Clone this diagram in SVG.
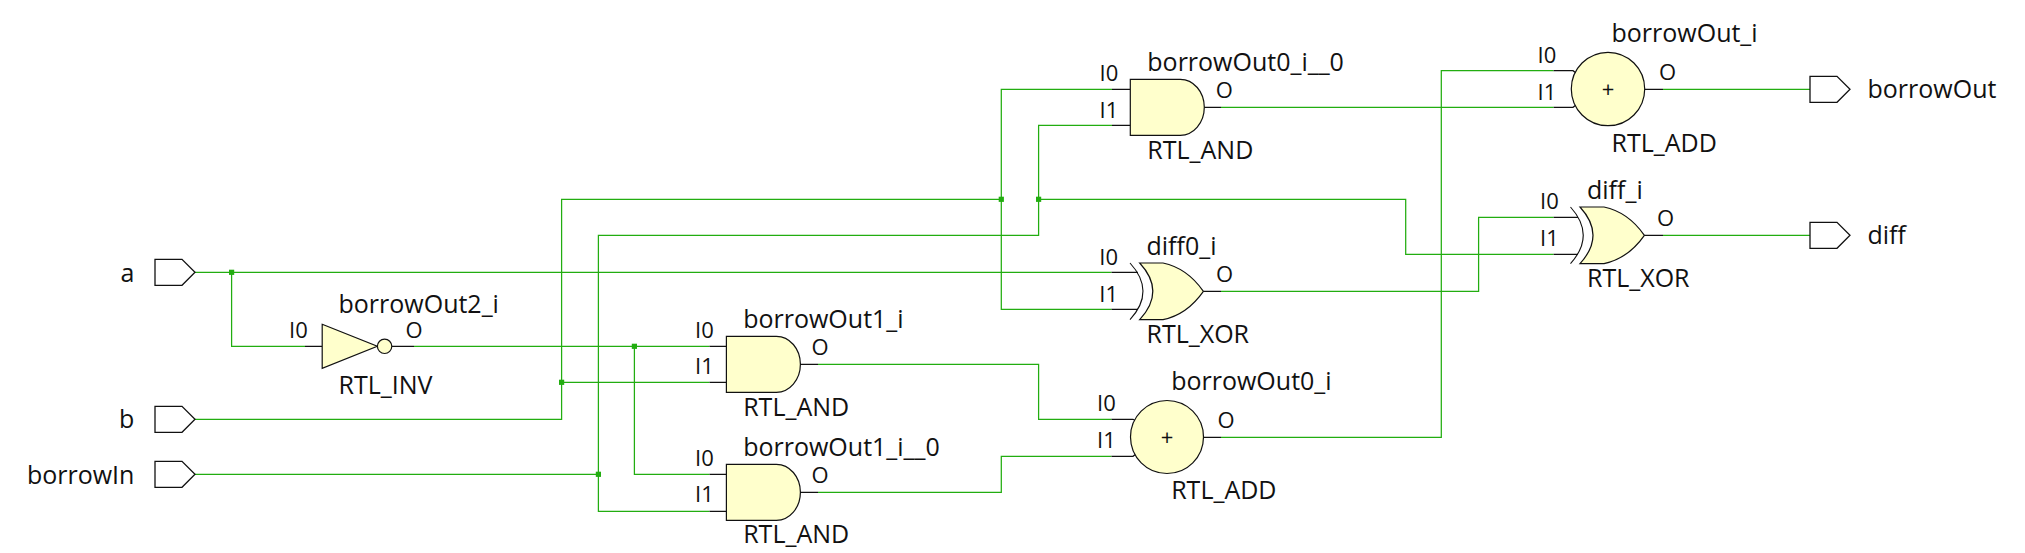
<svg xmlns="http://www.w3.org/2000/svg" width="2025" height="553" viewBox="0 0 2025 553">
<defs>
<style>
text{font-family:"Open Sans","Noto Sans",sans-serif;font-size:25px;fill:#111}
text.s{font-size:22px}
.w{fill:none;stroke:#22ad10;stroke-width:1.25}
.p{fill:none;stroke:#111;stroke-width:1.3}
.b{fill:#ffffcc;stroke:#111;stroke-width:1.2}
.o{fill:#fff;stroke:#111;stroke-width:1.3}
.j{fill:#22ad10}
.l{fill:none;stroke:#111;stroke-width:1.1}
</style>
<path id="and" d="M0,0H50A24,28 0 0 1 50,56H0Z"/>
<path id="port" d="M0,-13H27L40,0L27,13H0Z"/>
</defs>
<rect width="2025" height="553" fill="#fff"/>
<g id="connectors">
<path class="w" d="M194.300,272.300H1111.500"/>
<path class="w" d="M231.600,272.300V346.300H305"/>
<path class="w" d="M414,346.300H709.500"/>
<path class="w" d="M634.400,346.300V474.300H709.500"/>
<path class="w" d="M194.300,419.300H561.600V199.300H1001.300"/>
<path class="w" d="M561.600,382.300H709.500"/>
<path class="w" d="M1112,89.300H1001.300V309.300H1111.500"/>
<path class="w" d="M194.300,474.300H598.400"/>
<path class="w" d="M709.500,511.300H598.400V235.300H1038.600V125.300H1112"/>
<path class="w" d="M1038.600,199.300H1405.700V254.300H1553.600"/>
<path class="w" d="M818,364.300H1038.600V419.300H1111.500"/>
<path class="w" d="M818,492.300H1001.300V456.300H1111.500"/>
<path class="w" d="M1221,107.300H1553.600"/>
<path class="w" d="M1221,291.300H1478.600V217.300H1553.600"/>
<path class="w" d="M1221,437.300H1441.300V70.700H1553.600"/>
<path class="w" d="M1663,89.300H1810"/>
<path class="w" d="M1663,235.300H1810"/>
<rect class="j" x="229" y="269.700" width="5.200" height="5.200"/>
<rect class="j" x="631.800" y="343.700" width="5.200" height="5.200"/>
<rect class="j" x="559" y="379.700" width="5.200" height="5.200"/>
<rect class="j" x="595.800" y="471.700" width="5.200" height="5.200"/>
<rect class="j" x="998.700" y="196.700" width="5.200" height="5.200"/>
<rect class="j" x="1036" y="196.700" width="5.200" height="5.200"/>
</g>
<g id="a"><use href="#port" class="o" x="155" y="272.300"/><text x="134.400" y="281.500" text-anchor="end">a</text></g>
<g id="b"><use href="#port" class="o" x="155" y="419.300"/><text x="134.400" y="428" text-anchor="end">b</text></g>
<g id="borrowIn"><use href="#port" class="o" x="155" y="474.300"/><text x="134.400" y="483.500" text-anchor="end">borrowIn</text></g>
<g id="borrowOut"><use href="#port" class="o" x="1810" y="89.300"/><text x="1867.500" y="98">borrowOut</text></g>
<g id="diff"><use href="#port" class="o" x="1810" y="235.300"/><text x="1867.500" y="244">diff</text></g>
<g id="borrowOut2_i">
<path class="p" d="M305,346.300H322M392,346.300H414"/>
<path class="b" d="M322.200,324.300L377.300,346.300L322.200,368.300Z"/>
<circle class="b" cx="384.600" cy="346.300" r="7.200"/>
<text class="s" x="289" y="338">I0</text><text class="s" x="405.500" y="338">O</text>
<text x="338.500" y="313">borrowOut2_i</text><text x="338.500" y="394.300">RTL_INV</text>
</g>
<g id="borrowOut1_i">
<path class="p" d="M709.500,346.300H726.400M709.500,382.300H726.400M799.700,364.300H818"/>
<use href="#and" class="b" x="726.400" y="336.300"/>
<text class="s" x="695" y="338">I0</text><text class="s" x="695" y="374.300">I1</text><text class="s" x="811.500" y="355">O</text>
<text x="743.200" y="327.500">borrowOut1_i</text><text x="743.200" y="415.700">RTL_AND</text>
</g>
<g id="borrowOut1_i__0">
<path class="p" d="M709.500,474.300H726.400M709.500,511.300H726.400M799.700,492.300H818"/>
<use href="#and" class="b" x="726.400" y="464.300"/>
<text class="s" x="695" y="466">I0</text><text class="s" x="695" y="502.300">I1</text><text class="s" x="811.500" y="483.300">O</text>
<text x="743.200" y="455.500">borrowOut1_i__0</text><text x="743.200" y="543.300">RTL_AND</text>
</g>
<g id="borrowOut0_i__0">
<path class="p" d="M1112,89.300H1130.300M1112,125.300H1130.300M1203.700,107.300H1221"/>
<use href="#and" class="b" x="1130.300" y="79.300"/>
<text class="s" x="1099.500" y="81">I0</text><text class="s" x="1099.500" y="117.700">I1</text><text class="s" x="1215.800" y="98.300">O</text>
<text x="1147.300" y="71">borrowOut0_i__0</text><text x="1147.300" y="159.300">RTL_AND</text>
</g>
<g id="diff0_i">
<path class="p" d="M1111.500,272.300H1138M1111.500,309.300H1138M1203.400,291.300H1221"/>
<path class="l" d="M1130,263Q1156,291.300 1130,319.600"/>
<path class="b" d="M1139.700,263H1163Q1187,268 1203.400,291.300Q1187,314.600 1163,319.600H1139.700Q1166,291.300 1139.700,263Z"/>
<text class="s" x="1099.300" y="264.700">I0</text><text class="s" x="1099.300" y="302">I1</text><text class="s" x="1215.900" y="282.300">O</text>
<text x="1146.500" y="254.500">diff0_i</text><text x="1146.500" y="342.700">RTL_XOR</text>
</g>
<g id="diff_i">
<path class="p" d="M1553.600,217.300H1578M1553.600,254.300H1578M1644.400,235.300H1663"/>
<path class="l" d="M1570.500,207Q1596,235.300 1570.500,263.600"/>
<path class="b" d="M1580,207H1604Q1628,212 1644.400,235.300Q1628,258.600 1604,263.600H1580Q1606,235.300 1580,207Z"/>
<text class="s" x="1540" y="209">I0</text><text class="s" x="1540" y="245.700">I1</text><text class="s" x="1657" y="226">O</text>
<text x="1587" y="198.800">diff_i</text><text x="1587" y="286.700">RTL_XOR</text>
</g>
<g id="borrowOut0_i">
<path class="p" d="M1111.500,419.300H1133L1136,421M1111.500,456.300H1133L1136,454M1203.400,437.300H1221"/>
<circle class="b" cx="1167" cy="437" r="36.500"/>
<text class="s" x="1167" y="444.500" text-anchor="middle">+</text>
<text class="s" x="1097" y="410.700">I0</text><text class="s" x="1097" y="447.700">I1</text><text class="s" x="1217.500" y="428.300">O</text>
<text x="1171.200" y="390">borrowOut0_i</text><text x="1171.200" y="499.300">RTL_ADD</text>
</g>
<g id="borrowOut_i">
<path class="p" d="M1553.600,70.700H1573L1576,73M1553.600,107.300H1573L1576,105M1644.700,89.300H1663"/>
<circle class="b" cx="1608" cy="89" r="36.700"/>
<text class="s" x="1608" y="96.500" text-anchor="middle">+</text>
<text class="s" x="1537.500" y="63">I0</text><text class="s" x="1537.500" y="99.700">I1</text><text class="s" x="1658.900" y="80">O</text>
<text x="1611.500" y="41.800">borrowOut_i</text><text x="1611.500" y="151.700">RTL_ADD</text>
</g>
</svg>
